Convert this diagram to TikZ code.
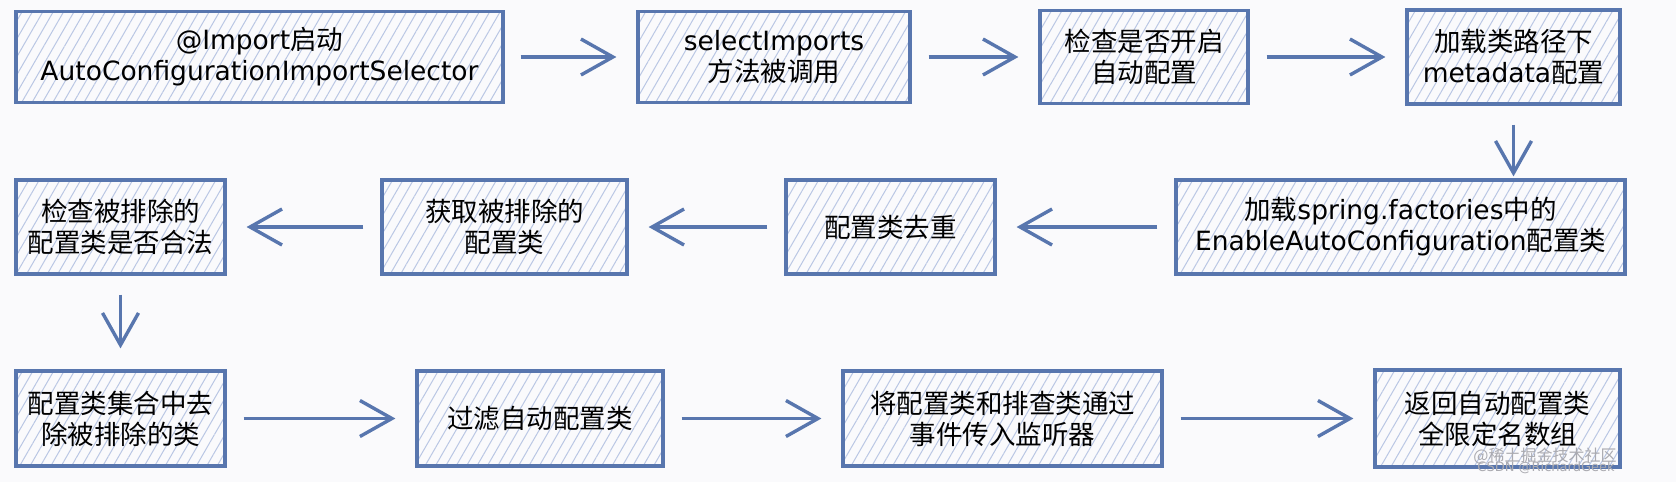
\documentclass[tikz,border=0pt]{standalone}
\usepackage{fontspec}
\setmainfont{DejaVu Sans}
\newfontfamily\cjk{Noto Sans CJK SC}
\usetikzlibrary{arrows.meta,patterns.meta}
\definecolor{edgeblue}{RGB}{88,118,174}
\definecolor{hatchblue}{RGB}{186,199,228}
\definecolor{bgcol}{RGB}{250,250,252}
\definecolor{markgray}{RGB}{170,170,176}
\tikzset{
  box/.style={draw=edgeblue, line width=3.2pt,
    pattern={Lines[angle=60,distance=9pt,line width=1pt]}, pattern color=hatchblue,
    align=center, inner sep=0pt, text=black,
    font=\fontsize{26.5}{31}\selectfont},
  flow/.style={draw=edgeblue, line width=3.4pt,
    -{Straight Barb[length=32pt,width=36pt,line width=3.4pt]},
    shorten <=17pt, shorten >=20pt},
  wm/.style={text=markgray, inner sep=0pt}
}
\begin{document}
\begin{tikzpicture}[x=1pt,y=-1pt]
\fill[bgcol] (0,0) rectangle (1676,482);
\useasboundingbox (0,0) rectangle (1676,482);
% row 1
\node[box, minimum width=487pt, minimum height=91pt] (b1) at (259.5,57)
  {@Import{\cjk 启动}\\AutoConfigurationImportSelector};
\node[box, minimum width=272pt, minimum height=91pt] (b2) at (774,57)
  {selectImports\\{\cjk 方法被调用}};
\node[box, minimum width=208pt, minimum height=93pt] (b3) at (1144,57)
  {{\cjk 检查是否开启}\\{\cjk 自动配置}};
\node[box, minimum width=213pt, minimum height=94pt] (b4) at (1513.5,57)
  {{\cjk 加载类路径下}\\metadata{\cjk 配置}};
% row 2
\node[box, minimum width=449pt, minimum height=94pt] (b5) at (1400.5,227)
  {{\cjk 加载}spring.factories{\cjk 中的}\\EnableAutoConfiguration{\cjk 配置类}};
\node[box, minimum width=209pt, minimum height=94pt] (b6) at (890.5,227)
  {{\cjk 配置类去重}};
\node[box, minimum width=245pt, minimum height=94pt] (b7) at (504.5,227)
  {{\cjk 获取被排除的}\\{\cjk 配置类}};
\node[box, minimum width=209pt, minimum height=94pt] (b8) at (120.5,227)
  {{\cjk 检查被排除的}\\{\cjk 配置类是否合法}};
% row 3
\node[box, minimum width=209pt, minimum height=95pt] (b9) at (120.5,418.5)
  {{\cjk 配置类集合中去}\\{\cjk 除被排除的类}};
\node[box, minimum width=246pt, minimum height=95pt] (b10) at (540,418.5)
  {{\cjk 过滤自动配置类}};
\node[box, minimum width=319pt, minimum height=95pt] (b11) at (1002.5,418.5)
  {{\cjk 将配置类和排查类通过}\\{\cjk 事件传入监听器}};
\node[box, minimum width=245pt, minimum height=97pt] (b12) at (1497.5,418.5)
  {{\cjk 返回自动配置类}\\{\cjk 全限定名数组}};
% arrows
\draw[flow] (b1.east) -- (b2.west);
\draw[flow] (b2.east) -- (b3.west);
\draw[flow] (b3.east) -- (b4.west);
\draw[flow, shorten <=19pt, shorten >=2pt] (b4.south) -- (b4.south |- b5.north);
\draw[flow] (b5.west) -- (b6.east);
\draw[flow] (b6.west) -- (b7.east);
\draw[flow] (b7.west) -- (b8.east);
\draw[flow, shorten <=19pt, shorten >=21pt] (b8.south) -- (b9.north);
\draw[flow] (b9.east) -- (b10.west);
\draw[flow] (b10.east) -- (b11.west);
\draw[flow] (b11.east) -- (b12.west);
% watermark
\node[wm, font=\cjk\fontsize{16}{16}\selectfont] (w1) at (1545,456) {@稀土掘金技术社区};
\node[wm, font=\fontsize{13}{13}\selectfont] (w2) at (1546,468) {CSDN @RichardGeek};
\end{tikzpicture}
\end{document}
